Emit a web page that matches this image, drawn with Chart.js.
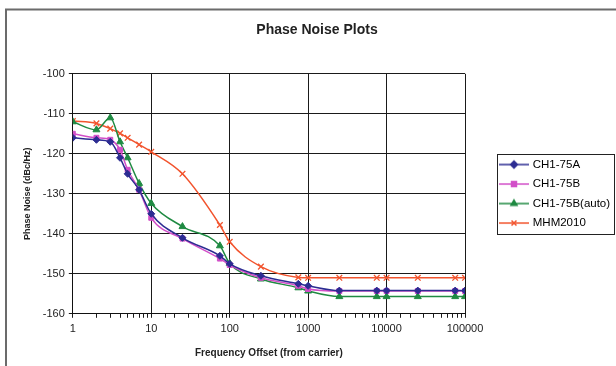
<!DOCTYPE html>
<html>
<head>
<meta charset="utf-8">
<script src="https://cdn.jsdelivr.net/npm/chart.js@4/dist/chart.umd.min.js"></script>
<style>
  html, body { margin: 0; padding: 0; background: #fff; }
  #wrap { width: 616px; height: 366px; position: relative; }
</style>
</head>
<body>
<div id="wrap"><canvas id="c" width="616" height="366"></canvas></div>
<script>
const freqOffsets = [1, 2, 3, 4, 5, 7, 10, 25, 75, 100, 250, 750, 1000, 2500, 7500, 10000, 25000, 75000, 100000];
const ch175A     = [-116, -116.5, -117, -121, -125, -129, -135, -141, -145.5, -147.5, -150.5, -152.5, -153, -154.2, -154.2, -154.2, -154.2, -154.2, -154.2];
const ch175B     = [-115, -116, -116.5, -119, -124, -129, -136, -141.2, -146.2, -147.8, -151, -153, -153.8, -154.3, -154.3, -154.3, -154.3, -154.3, -154.3];
const ch175BAuto = [-112, -114, -111, -117, -121, -127.4, -132.4, -138.2, -143, -147.4, -151.3, -153.5, -154.3, -155.7, -155.7, -155.7, -155.7, -155.7, -155.7];
const mhm2010    = [-111.8, -112.4, -113.7, -114.9, -116, -117.7, -119.5, -125, -137.8, -142, -148.2, -150.9, -151, -151, -151, -151, -151, -151, -151];
const seriesNames = ['CH1-75A', 'CH1-75B', 'CH1-75B(auto)', 'MHM2010'];
const yTicks = [-160, -150, -140, -130, -120, -110, -100];
const xMajorTicks = [1, 10, 100, 1000, 10000, 100000];

const colors = ['#2c2c92', '#d24fc8', '#1f8a42', '#f2542e'];
const styles = ['rectRot', 'rect', 'triangle', 'crossRot'];
const radii = [3.5, 3.5, 4, 4];

function pts(arr) { return freqOffsets.map((x, i) => ({ x: x, y: arr[i] })); }

function legendImg(color, style) {
  const cv = document.createElement('canvas');
  cv.width = 30; cv.height = 12;
  const g = cv.getContext('2d');
  g.strokeStyle = color; g.fillStyle = color; g.lineWidth = 1.5;
  g.beginPath(); g.moveTo(0, 6); g.lineTo(30, 6); g.stroke();
  Chart.helpers.drawPoint(g, { pointStyle: style, radius: 3.5, borderWidth: 1.5 }, 15, 6);
  return cv;
}

const allSeries = [ch175A, ch175B, ch175BAuto, mhm2010];
const datasets = allSeries.map((arr, i) => ({
  label: seriesNames[i],
  data: pts(arr),
  borderColor: colors[i],
  backgroundColor: colors[i],
  borderWidth: 1.5,
  pointStyle: styles[i],
  pointRadius: radii[i],
  pointBorderWidth: i === 3 ? 1.3 : 1,
  cubicInterpolationMode: 'monotone',
  fill: false
}));

const LEGEND_BOX_WIDTH = 151;   // space reserved on the right for the legend
const LEGEND_LEFT = 493;        // where the legend block starts

const framePlugin = {
  id: 'frame',
  afterInit(chart) {
    const lg = chart.legend;
    if (lg && !lg._patched) {
      const orig = lg.fit.bind(lg);
      lg.fit = function () { orig(); this.width = LEGEND_BOX_WIDTH; };
      lg._patched = true;
    }
  },
  afterLayout(chart) {
    const lg = chart.legend;
    if (!lg) return;
    const w = lg.right - lg.left;
    lg.left = LEGEND_LEFT;
    lg.right = LEGEND_LEFT + w;
    lg.top = chart.chartArea.top;
    lg.bottom = chart.chartArea.bottom;
    lg.height = lg.bottom - lg.top;
  },
  beforeDraw(chart) {
    const g = chart.ctx;
    g.save();
    g.fillStyle = '#fff';
    g.fillRect(0, 0, chart.width, chart.height);
    g.strokeStyle = '#6b6b6b';
    g.lineWidth = 2;
    g.strokeRect(6, 9.5, chart.width + 10, chart.height + 10);
    g.restore();
  },
  afterDraw(chart) {
    const lg = chart.legend;
    if (!lg || !lg.legendHitBoxes || !lg.legendHitBoxes.length) return;
    const hb = lg.legendHitBoxes;
    let l = Infinity, t = Infinity, r = -Infinity, b = -Infinity;
    hb.forEach(h => { l = Math.min(l, h.left); t = Math.min(t, h.top); r = Math.max(r, h.left + h.width); b = Math.max(b, h.top + h.height); });
    const g = chart.ctx;
    g.save();
    g.strokeStyle = '#222';
    g.lineWidth = 1;
    g.strokeRect(Math.round(l - 4) + 0.5, Math.round(t - 5) + 0.5, Math.round(r - l + 8), Math.round(b - t + 10));
    g.restore();
  }
};

const chart = new Chart(document.getElementById('c'), {
  type: 'line',
  data: { datasets: datasets },
  plugins: [framePlugin],
  options: {
    responsive: false,
    animation: false,
    devicePixelRatio: 1,
    layout: { padding: { left: 18, right: 0, top: 0, bottom: 5 } },
    plugins: {
      title: {
        display: true,
        text: 'Phase Noise Plots',
        color: '#222',
        font: { family: 'Liberation Sans', size: 14, weight: 'bold' },
        padding: { top: 22, bottom: 35 }
      },
      legend: {
        position: 'right',
        labels: {
          color: '#222',
          font: { family: 'Liberation Sans', size: 11.5 },
          usePointStyle: true,
          pointStyleWidth: 26,
          padding: 8,
          generateLabels(chart) {
            return chart.data.datasets.map((ds, i) => ({
              text: ds.label,
              pointStyle: legendImg(colors[i], styles[i]),
              fillStyle: colors[i],
              strokeStyle: colors[i],
              lineWidth: 0,
              hidden: false,
              datasetIndex: i
            }));
          }
        }
      },
      tooltip: { enabled: false }
    },
    scales: {
      x: {
        type: 'logarithmic',
        min: 1,
        max: 100000,
        border: { color: '#111', width: 1 },
        grid: {
          color: ctx => (ctx.tick && xMajorTicks.includes(ctx.tick.value)) ? '#1a1a1a' : 'rgba(0,0,0,0)',
          tickColor: '#1a1a1a',
          tickLength: 4,
          lineWidth: 1
        },
        ticks: {
          autoSkip: false,
          maxRotation: 0,
          padding: 5,
          color: '#222',
          font: { family: 'Liberation Sans', size: 11 },
          callback: (v) => xMajorTicks.includes(v) ? String(v) : ''
        },
        title: {
          display: true,
          text: 'Frequency Offset (from carrier)',
          color: '#222',
          font: { family: 'Liberation Sans', size: 10, weight: 'bold' },
          padding: { top: 6, bottom: 2 }
        }
      },
      y: {
        type: 'linear',
        min: -160,
        max: -100,
        afterBuildTicks: (axis) => { axis.ticks = yTicks.map(v => ({ value: v })); },
        border: { color: '#111', width: 1 },
        grid: { color: '#1a1a1a', tickColor: '#1a1a1a', tickLength: 4, lineWidth: 1 },
        ticks: {
          padding: 4,
          color: '#222',
          font: { family: 'Liberation Sans', size: 11 }
        },
        title: {
          display: true,
          text: 'Phase Noise (dBc/Hz)',
          color: '#222',
          font: { family: 'Liberation Sans', size: 9, weight: 'bold' },
          padding: { top: 4, bottom: 6 }
        }
      }
    }
  }
});
chart.update();
</script>
</body>
</html>
